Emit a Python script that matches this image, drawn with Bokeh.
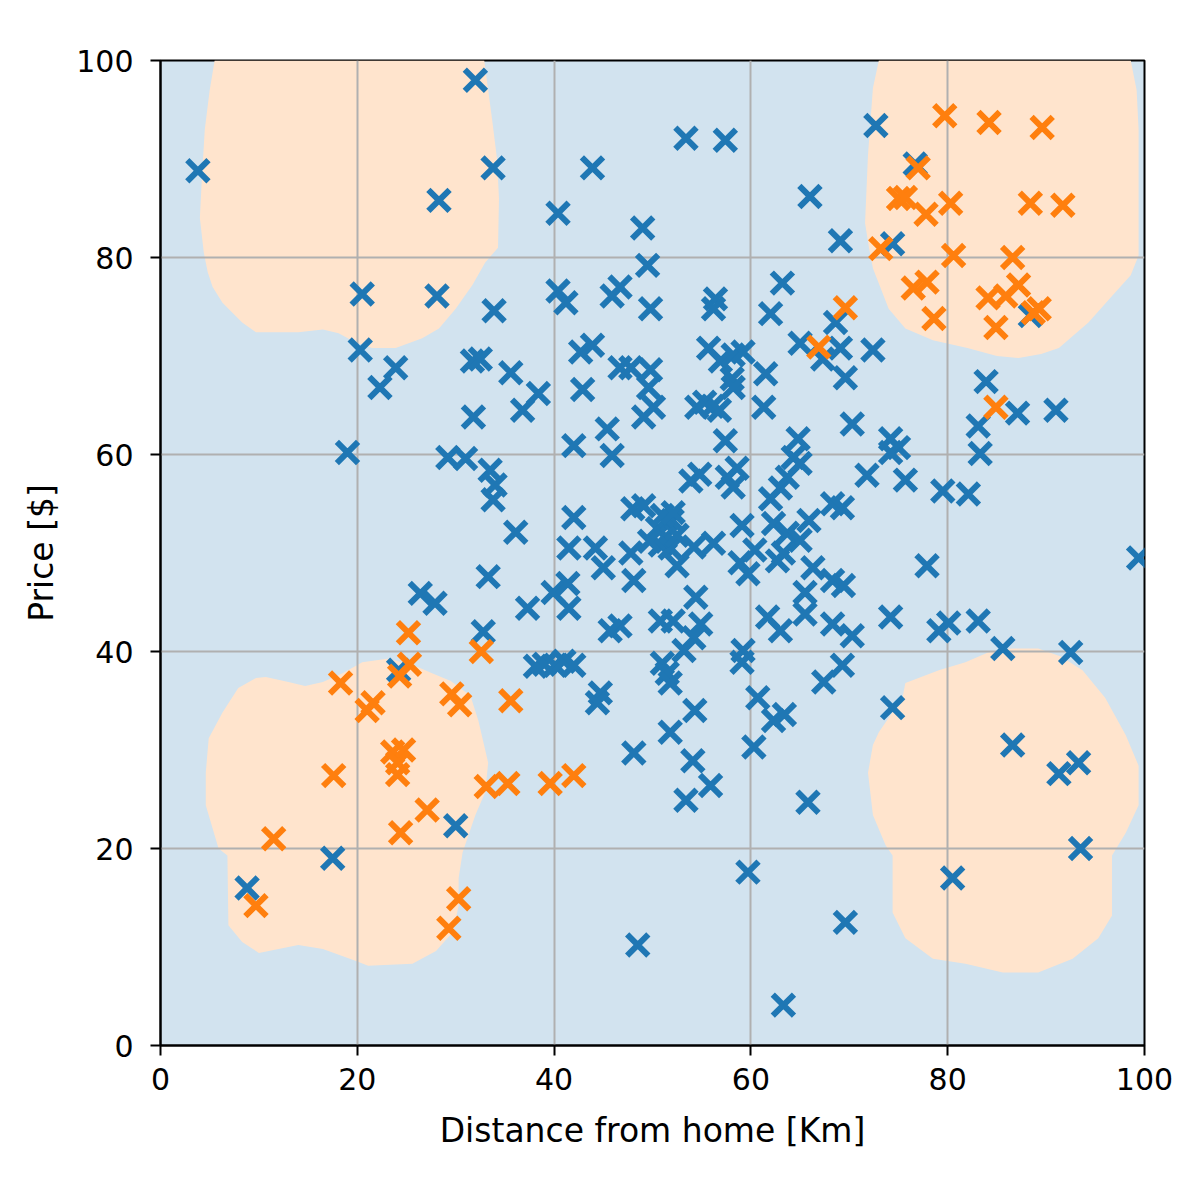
from bokeh.plotting import figure
from bokeh.models import Range1d, FixedTicker
from bokeh.embed import file_html
from bokeh.resources import INLINE

# ---- data: blue class (label 0) ----
blue_x = [32.0, 3.8, 33.8, 28.3, 20.5, 28.1, 33.9, 20.3, 23.9, 22.3, 31.7, 32.5, 43.9, 53.4, 57.4,
          40.4, 49.0, 49.5, 66.0, 40.4, 41.2, 45.9, 46.7, 49.8, 56.4, 56.2, 63.2, 62.0, 65.0, 35.6,
          38.4, 42.7, 43.9, 42.9, 46.7, 47.8, 49.8, 49.6, 55.7, 56.9, 58.2, 59.2, 58.1, 61.5, 58.2,
          72.7, 69.1, 74.4, 76.7, 88.4, 68.6, 69.1, 72.4, 69.6, 67.3, 83.9, 31.8, 19.0, 29.2, 31.0,
          33.5, 34.0, 33.8, 33.3, 26.4, 27.9, 24.2, 32.8, 36.8, 50.1, 49.1, 54.5, 55.3, 56.1, 56.8,
          61.3, 57.4, 45.4, 45.9, 42.0, 64.8, 64.3, 36.1, 42.0, 41.5, 44.2, 45.0, 37.3, 39.9, 41.4,
          41.5, 48.0, 49.1, 50.5, 51.3, 52.0, 50.8, 51.8, 52.5, 49.7, 51.0, 52.1, 47.8, 48.1, 52.5,
          54.2, 56.2, 54.4, 59.1, 58.9, 59.7, 60.4, 57.6, 58.6, 58.2, 53.9, 54.8, 62.0, 63.0, 63.7,
          65.0, 62.3, 63.7, 65.0, 62.7, 63.3, 65.5, 65.5, 61.7, 63.0, 38.1, 39.0, 40.1, 41.0, 42.0,
          44.7, 44.4, 46.7, 45.7, 50.8, 52.1, 54.9, 54.2, 51.0, 51.5, 51.8, 53.2, 59.2, 59.1, 54.3,
          60.7, 62.3, 63.4, 70.3, 74.2, 75.0, 74.2, 71.8, 75.7, 79.5, 82.1, 83.1, 83.3, 87.1, 91.0,
          99.4, 77.9, 68.3, 69.3, 65.9, 66.3, 68.3, 69.4, 68.3, 70.3, 74.2, 79.1, 80.1, 83.1, 85.6,
          92.5, 69.3, 67.4, 74.4, 48.1, 51.8, 54.1, 55.9, 53.4, 60.3, 65.8, 59.7, 48.5, 63.3, 86.6,
          91.3, 93.3, 93.5, 80.5, 69.6, 8.8, 17.5, 30.0]
blue_y = [98.0, 88.8, 89.1, 85.8, 76.3, 76.1, 74.6, 70.6, 68.8, 66.8, 69.5, 69.7, 89.1, 92.1, 91.9,
          84.5, 83.0, 79.2, 86.2, 76.6, 75.4, 76.1, 77.0, 74.8, 75.8, 74.8, 77.4, 74.3, 71.3, 68.3,
          66.2, 70.4, 71.1, 66.6, 68.8, 68.8, 68.6, 66.8, 70.8, 69.5, 70.1, 70.4, 67.7, 68.2, 66.8,
          93.4, 81.7, 81.4, 89.5, 74.1, 73.4, 70.8, 70.6, 67.8, 69.7, 67.4, 63.8, 60.2, 59.7, 59.6,
          58.4, 56.9, 55.4, 47.6, 45.9, 44.9, 38.1, 42.0, 64.5, 64.8, 63.8, 64.8, 65.3, 64.9, 64.5,
          64.8, 61.4, 62.6, 59.9, 60.9, 61.6, 59.7, 52.1, 53.6, 50.5, 50.5, 48.5, 44.4, 46.0, 46.9,
          44.4, 54.5, 54.8, 52.5, 51.6, 53.3, 50.8, 50.5, 51.8, 51.2, 53.8, 54.1, 50.0, 47.2, 48.7,
          50.6, 51.0, 45.5, 52.8, 49.0, 47.9, 50.3, 57.7, 58.6, 56.7, 57.3, 58.0, 55.5, 56.6, 57.7,
          59.1, 53.0, 52.0, 51.3, 49.2, 50.0, 46.0, 43.8, 43.5, 42.1, 38.5, 38.7, 38.6, 39.0, 38.6,
          35.8, 34.8, 42.6, 42.1, 43.1, 43.1, 42.8, 41.4, 38.8, 37.8, 36.8, 40.1, 40.1, 38.9, 34.0,
          35.3, 33.0, 33.6, 63.1, 61.6, 60.7, 60.2, 57.9, 57.4, 56.3, 56.0, 62.9, 60.1, 64.2, 64.5,
          49.5, 48.7, 55.0, 54.6, 53.3, 48.5, 47.2, 46.7, 42.8, 41.6, 43.5, 42.1, 42.9, 43.1, 40.3,
          39.9, 38.6, 36.9, 34.3, 29.7, 31.8, 28.9, 26.4, 24.9, 30.3, 24.7, 17.6, 10.2, 4.1, 30.5,
          27.6, 28.7, 20.0, 17.0, 12.5, 16.0, 19.0, 22.3]

# ---- data: orange class (label 1) ----
orange_x = [79.7, 84.2, 89.6, 75.0, 75.7, 77.0, 80.3, 88.4, 91.7, 73.2, 77.8, 80.6, 76.5, 77.9, 78.6,
            86.6, 87.2, 84.1, 85.9, 84.9, 88.7, 89.3, 69.6, 66.9, 84.9, 18.3, 21.0, 21.6, 24.3, 25.2,
            25.3, 17.6, 23.6, 24.7, 24.1, 24.1, 11.5, 9.7, 24.4, 27.1, 30.3, 29.3, 29.6, 30.4, 32.6,
            35.6, 33.1, 35.3, 39.6, 42.0]
orange_y = [94.4, 93.7, 93.2, 86.0, 86.1, 89.1, 85.5, 85.5, 85.3, 80.9, 84.4, 80.2, 76.9, 77.5, 73.8,
            80.0, 77.2, 75.9, 76.1, 72.9, 74.4, 74.8, 74.9, 70.9, 64.8, 36.8, 34.0, 34.8, 37.5, 41.9,
            38.7, 27.4, 29.8, 30.0, 28.7, 27.5, 21.0, 14.2, 21.6, 23.9, 14.9, 11.9, 35.7, 34.6, 40.0,
            35.0, 26.3, 26.6, 26.6, 27.4]

# ---- decision regions predicted as class 1 (outlines) ----
region_tl_x = [5.5, 5.0, 4.5, 4.2, 4.0, 4.4, 4.8, 5.3, 6.3, 8.3, 9.7, 14.0, 16.5, 18.1, 19.8, 21.5, 23.9,
               26.6, 28.3, 30.0, 31.7, 33.0, 34.3, 34.4, 34.2, 33.7, 33.3, 32.9]
region_tl_y = [100.0, 97.0, 93.0, 88.0, 84.0, 80.5, 78.5, 77.0, 75.4, 73.4, 72.4, 72.4, 72.7, 72.3, 71.4,
               70.8, 70.8, 71.8, 72.8, 74.8, 77.2, 79.5, 81.0, 86.0, 90.0, 94.0, 97.0, 100.0]
region_tr_x = [73.0, 72.4, 71.9, 71.6, 72.0, 72.4, 74.0, 75.7, 78.5, 82.0, 85.0, 87.2, 89.5, 91.3, 94.3,
               96.7, 98.6, 99.4, 99.4, 99.2, 98.6]
region_tr_y = [100.0, 97.2, 90.4, 83.5, 81.0, 78.9, 74.8, 72.8, 71.6, 70.8, 70.0, 69.8, 70.2, 70.8, 73.4,
               76.1, 78.2, 80.2, 93.0, 97.0, 100.0]
region_bl_x = [6.3, 7.9, 9.7, 10.7, 13.0, 14.7, 16.5, 18.5, 20.5, 23.2, 26.2, 27.6, 29.5, 31.5, 32.3,
               33.3, 33.0, 32.0, 30.7, 30.3, 30.3, 29.7, 28.0, 25.6, 21.1, 19.8, 16.5, 14.0, 10.0, 8.3,
               6.9, 6.8, 5.9, 4.6, 4.6, 4.9]
region_bl_y = [33.8, 36.3, 37.3, 37.4, 36.9, 36.5, 36.9, 37.8, 38.9, 39.3, 38.4, 37.8, 37.0, 35.5, 33.0,
               28.7, 25.7, 23.4, 19.6, 17.0, 14.2, 11.5, 9.6, 8.3, 8.1, 8.6, 9.8, 10.2, 9.4, 10.5,
               12.2, 19.3, 20.0, 24.4, 27.7, 31.2]
region_br_x = [75.4, 75.7, 79.1, 81.8, 84.1, 86.5, 89.2, 91.5, 93.7, 96.0, 98.1, 99.4, 99.4, 98.1, 96.7,
               96.7, 95.3, 92.7, 89.2, 85.6, 81.8, 78.5, 75.7, 74.4, 74.4, 73.7, 72.4, 71.9, 72.4, 73.0]
region_br_y = [35.3, 36.8, 38.1, 38.9, 39.9, 40.3, 40.3, 39.5, 38.1, 35.3, 31.5, 28.4, 24.4, 21.6, 19.3,
               13.2, 10.9, 8.8, 7.4, 7.4, 8.3, 8.8, 10.9, 13.5, 19.3, 20.3, 23.4, 27.7, 30.5, 31.8]

x_ticks = [0, 20, 40, 60, 80, 100]
y_ticks = [0, 20, 40, 60, 80, 100]
x_label = "Distance from home [Km]"
y_label = "Price [$]"

BLUE = "#1f77b4"
ORANGE = "#ff7f0e"
BLUE_BG = "#d2e3ef"
ORANGE_BG = "#ffe4cd"
FONT = "DejaVu Sans"

p = figure(frame_width=984, frame_height=985,
           min_border_left=160, min_border_right=40, min_border_top=60, min_border_bottom=139,
           x_range=Range1d(0, 100), y_range=Range1d(0, 100),
           output_backend="svg", toolbar_location=None, tools="")
p.background_fill_color = BLUE_BG
p.border_fill_color = "white"
p.outline_line_color = "black"
p.outline_line_width = 2

p.patches(xs=[region_tl_x, region_tr_x, region_bl_x, region_br_x],
          ys=[region_tl_y, region_tr_y, region_bl_y, region_br_y],
          fill_color=ORANGE_BG, line_color=None, level="image")

p.scatter(blue_x, blue_y, marker="x", size=30, line_color=BLUE, line_width=6)
p.scatter(orange_x, orange_y, marker="x", size=30, line_color=ORANGE, line_width=6)

for g in (p.xgrid, p.ygrid):
    g.grid_line_color = "#b0b0b0"
    g.grid_line_width = 2
p.xgrid.ticker = FixedTicker(ticks=x_ticks)
p.ygrid.ticker = FixedTicker(ticks=y_ticks)

p.xaxis.ticker = FixedTicker(ticks=x_ticks)
p.yaxis.ticker = FixedTicker(ticks=y_ticks)
for ax in (p.xaxis[0], p.yaxis[0]):
    ax.axis_line_color = "black"
    ax.axis_line_width = 2
    ax.major_tick_line_color = "black"
    ax.major_tick_line_width = 2
    ax.major_tick_in = 0
    ax.major_tick_out = 10
    ax.minor_tick_line_color = None
    ax.major_label_text_font = FONT
    ax.major_label_text_font_size = "30px"
    ax.major_label_text_color = "black"
    ax.axis_label_text_font = FONT
    ax.axis_label_text_font_size = "33px"
    ax.axis_label_text_font_style = "normal"
    ax.axis_label_text_color = "black"

p.xaxis.axis_label = x_label
p.yaxis.axis_label = y_label
p.xaxis.major_label_standoff = 12
p.xaxis.axis_label_standoff = 18
p.yaxis.major_label_standoff = 17
p.yaxis.axis_label_standoff = 12

open("out.html", "w").write(file_html(p, INLINE))
